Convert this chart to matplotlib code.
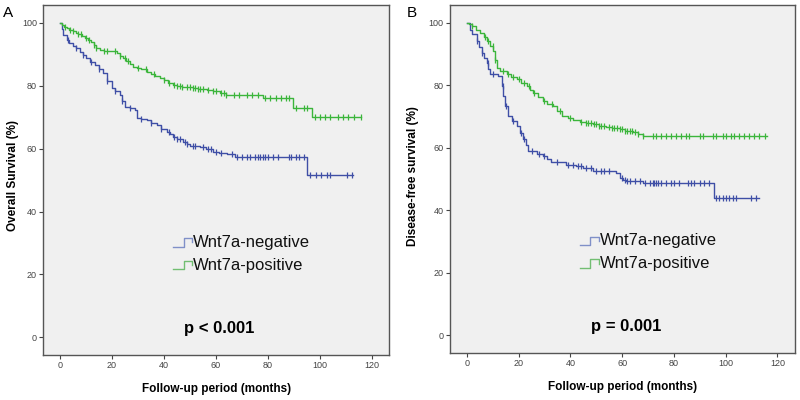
import numpy as np
import matplotlib
matplotlib.use("Agg")
import matplotlib.pyplot as plt
from matplotlib.lines import Line2D

plt.rcParams['font.family'] = ['Liberation Sans', 'DejaVu Sans']

# ---------------- Data ----------------
# Panel A: overall survival  -- (time in months, survival %) step points
A_neg_steps = [(0, 100), (0.7, 98), (1.3, 96.2), (2.6, 94.6), (3.5, 93.6), (5, 92.8), (6, 91.9),
               (7.7, 90.9), (9, 89.9), (10, 88.8), (11.5, 87.6), (13.5, 86.6), (15, 85.3),
               (16.7, 84.0), (18, 81.6), (19.9, 79.2), (21, 78.2), (23.1, 77.1), (24, 75.2),
               (25, 73.4), (27, 72.9), (28.9, 72.3), (29.5, 69.7), (31, 69.4), (33.4, 69.1),
               (35, 68.3), (37.2, 67.5), (39, 66.4), (41, 65.4), (42.5, 64.6), (43.6, 63.8),
               (45, 63.0), (47.4, 62.2), (49, 61.6), (50, 61.0), (53.9, 60.6), (56, 59.8),
               (59, 59.1), (61, 58.6), (64.1, 58.2), (67.3, 57.5), (95, 51.6), (112.9, 51.6)]
A_neg_censor = [3, 6, 9, 12, 15, 18, 21, 24, 27, 31, 35, 39, 42, 44, 45, 46, 48, 49, 51, 52, 55, 57,
                58, 60, 62, 66, 68, 70, 72, 73, 75, 76, 77, 78, 79, 80, 82, 84, 88, 89, 91, 92, 94,
                96.2, 98.7, 100.6, 102.6, 103.9, 110.3, 112.2]
A_pos_steps = [(0, 100), (0.8, 99.3), (1.5, 98.8), (2.5, 98.3), (3.5, 97.8), (5, 97.3), (6, 96.9),
               (7, 96.5), (8.5, 95.8), (9.5, 95.2), (10.9, 94.6), (12, 93.8), (13, 92.9),
               (14, 92.1), (15.4, 91.4), (17, 91.2), (20.5, 91.0), (22, 90.3), (23, 89.6),
               (24.4, 88.8), (25.5, 88.0), (27, 87.0), (28.2, 86.1), (29.5, 85.7), (31, 85.2),
               (33.4, 84.5), (35, 83.8), (36.5, 83.0), (38.5, 82.4), (40, 81.8), (41.5, 81.0),
               (43.6, 80.3), (45, 80.0), (47, 79.7), (48.8, 79.5), (51, 79.2), (53, 78.9),
               (56.5, 78.7), (59, 78.3), (61.6, 77.6), (64, 77.1), (78.3, 76.0), (89.8, 72.9),
               (96.9, 70.2), (116, 70.2)]
A_pos_censor = [2, 4, 5, 7, 8, 10, 11, 13, 14, 17, 18, 21, 23, 25, 26, 30, 33, 36, 40, 42, 44, 45,
                46, 47, 49, 50, 51, 52, 53, 54, 55, 57, 59, 60, 62, 63, 64, 67, 69, 72, 74, 76, 79,
                81, 83, 85, 87, 88, 91, 94, 95, 98, 100, 102, 104, 107, 109, 111, 113, 116]

# Panel B: disease-free survival
B_neg_steps = [(0, 100), (1.3, 97.8), (1.9, 96.3), (3.9, 94.1), (4.8, 92.2), (5.8, 90.4),
               (6.7, 88.8), (7.7, 87.2), (8.3, 85.3), (9, 83.5), (12.2, 82.9), (13.5, 79.7),
               (14.1, 76.5), (14.7, 73.3), (16, 70.1), (17.5, 68.5), (19.3, 66.9), (20.5, 64.8),
               (21.8, 62.7), (22.8, 60.8), (23.7, 58.9), (27, 58.2), (29.5, 57.3), (31, 56.4),
               (32.7, 55.5), (38.5, 54.6), (42, 54.1), (44.9, 53.6), (48.7, 52.5), (57.8, 52.0),
               (59, 50.4), (60.5, 49.8), (61.6, 49.3), (68, 48.8), (95.6, 44.0), (112.9, 44.0)]
B_neg_censor = [4, 6, 8, 10, 14, 15, 18, 21, 22, 25, 28, 30, 35, 39, 41, 43, 44, 46, 48, 50, 52,
                53, 55, 60, 61, 62, 63, 65, 67, 68.7, 70.6, 71.9, 72.5, 73.2, 73.8, 75.1, 77, 78.9,
                80.2, 82.1, 85.3, 86.6, 87.9, 89.9, 91.8, 93.7, 96.2, 97.5, 98.8, 100.1, 101.4,
                102.7, 104, 109.8, 111.7]
B_pos_steps = [(0, 100), (0.8, 99.5), (1.9, 98.9), (3.5, 97.8), (5.1, 96.8), (6.5, 95.4),
               (7.7, 94.1), (9, 92.5), (10.2, 90.9), (11, 88.0), (11.6, 85.6), (13, 84.6),
               (15.4, 83.5), (17, 82.7), (19.3, 81.9), (21, 80.9), (23.1, 79.7), (24.5, 78.6),
               (25.6, 77.6), (27.5, 76.2), (29.5, 74.9), (31, 74.1), (33.3, 73.3), (35, 71.7),
               (36.6, 70.1), (39, 69.5), (41, 69.0), (43.6, 68.2), (46, 67.9), (48.7, 67.5),
               (51, 67.1), (53.9, 66.7), (56, 66.3), (59, 65.9), (61, 65.5), (64.2, 65.1),
               (66, 64.4), (68, 63.7), (116.1, 63.7)]
B_pos_censor = [2, 7, 8, 10, 11, 14, 16, 18, 20, 22, 24, 26, 30, 33, 36, 40, 44, 46, 47, 48, 49,
                50, 51, 52, 53, 55, 56, 57, 58, 59, 60, 61, 62, 63, 64, 65, 66, 68, 71.9, 73.2,
                75.1, 77, 79, 80.9, 82.8, 84.8, 86, 89.9, 91.2, 95, 96.3, 98.9, 100.2, 102.1,
                103.4, 105.3, 107.2, 109.2, 111.1, 113, 115]

labels = ["Wnt7a-negative", "Wnt7a-positive"]
x_ticks = [0, 20, 40, 60, 80, 100, 120]
y_ticks = [0, 20, 40, 60, 80, 100]

BLUE = '#3F4FA6'
GREEN = '#3BB53B'
BLUE_L = '#8090C8'
GREEN_L = '#72BE72'
BG = '#F0F0F0'

def step_value(tt, ss, x):
    idx = np.searchsorted(np.asarray(tt), x, side='right') - 1
    return np.asarray(ss)[idx]

fig = plt.figure(figsize=(8, 4), dpi=100)
fig.patch.set_facecolor('white')

panels = [
    dict(rect=[0.054, 0.1125, 0.4325, 0.875], letter='A', ylabel='Overall Survival (%)',
         pval='p < 0.001', neg=(A_neg_steps, A_neg_censor), pos=(A_pos_steps, A_pos_censor),
         letter_x=0.004, ylab_x=0.016),
    dict(rect=[0.5625, 0.1175, 0.431, 0.87], letter='B', ylabel='Disease-free survival (%)',
         pval='p = 0.001', neg=(B_neg_steps, B_neg_censor), pos=(B_pos_steps, B_pos_censor),
         letter_x=0.508, ylab_x=0.516),
]

for p in panels:
    ax = fig.add_axes(p['rect'])
    ax.set_facecolor(BG)
    for (steps, cc), col in ((p['neg'], BLUE), (p['pos'], GREEN)):
        tt = [a for a, b in steps]
        ss = [b for a, b in steps]
        ax.step(tt, ss, where='post', color=col, lw=1.0)
        cy = step_value(tt, ss, np.asarray(cc))
        ax.plot(cc, cy, ls='none', marker='|', ms=5, mew=0.9, color=col)
    ax.set_xlim(-6.5, 126.7)
    ax.set_ylim(-5.6, 105.7)
    ax.set_xticks(x_ticks)
    ax.set_yticks(y_ticks)
    ax.tick_params(direction='out', length=3, width=0.8, labelsize=6.5,
                   colors='#444444', pad=1.5)
    for s in ax.spines.values():
        s.set_color('#555555')
        s.set_linewidth(1.0)
    ax.set_xlabel('Follow-up period (months)', fontsize=8.5, fontweight='bold', labelpad=9)
    # legend (SPSS-style step samples)
    for i, (lab, lc) in enumerate(zip(labels, (BLUE_L, GREEN_L))):
        yc = 0.322 - i * 0.065
        x0 = 0.376
        xs = [x0, x0 + 0.03, x0 + 0.03, x0 + 0.055, x0 + 0.055]
        ys = [yc - 0.012, yc - 0.012, yc + 0.012, yc + 0.012, yc + 0.0]
        ax.add_line(Line2D(xs, ys, transform=ax.transAxes, color=lc, lw=1.0))
        ax.text(x0 + 0.058, yc, lab, transform=ax.transAxes, fontsize=12,
                va='center', ha='left', color='#111111')
    ax.text(0.51, 0.075, p['pval'], transform=ax.transAxes, fontsize=12,
            fontweight='bold', ha='center', va='center')
    fig.text(p['letter_x'], 0.985, p['letter'], fontsize=11, ha='left', va='top')
    fig.text(p['ylab_x'], 0.56, p['ylabel'], fontsize=8.5, fontweight='bold',
             rotation=90, ha='center', va='center')

fig.savefig('out.png', dpi=100)
